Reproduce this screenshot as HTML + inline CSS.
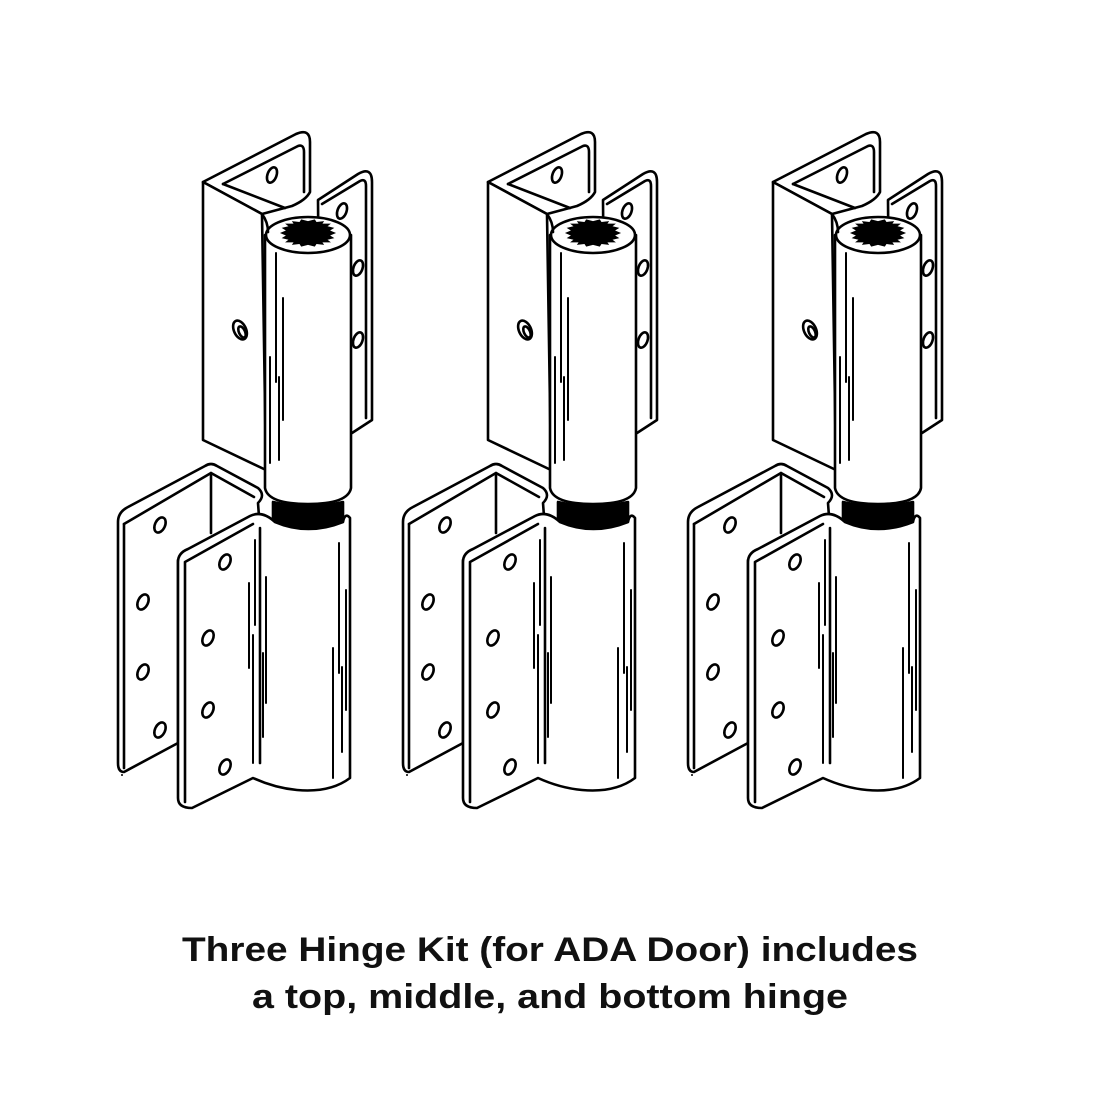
<!DOCTYPE html>
<html><head><meta charset="utf-8"><style>
html,body{margin:0;padding:0;background:#fff;}
svg{display:block;}
</style></head><body>
<svg width="1100" height="1100" viewBox="0 0 1100 1100" xmlns="http://www.w3.org/2000/svg">
<defs>
<g id="h" stroke="#000" stroke-width="2.6" fill="#fff" stroke-linejoin="round" stroke-linecap="round">
  <path d="M318,200 L358,174 Q372,166 372,182 L372,420 L352,433 L320,440 Z"/>
  <path d="M322,204 L360,181 Q366,178 366,186 L366,418" fill="none"/>
  <ellipse cx="342" cy="211" rx="4.5" ry="8" transform="rotate(20 342 211)"/>
  <ellipse cx="358" cy="268" rx="4.5" ry="8" transform="rotate(20 358 268)"/>
  <ellipse cx="358" cy="340" rx="4.5" ry="8" transform="rotate(20 358 340)"/>
  <path d="M203,182 L296,134 Q310,128 310,142 L310,192 Q306,200 292,206 L262,214 Z"/>
  <path d="M223,184 L298,146 Q304,144 304,152 L304,192" fill="none"/>
  <path d="M223,184 L285,208" fill="none"/>
  <ellipse cx="272" cy="175" rx="4.5" ry="8" transform="rotate(20 272 175)"/>
  <path d="M203,182 L262,214 L266,470 L203,440 Z"/>
  <ellipse cx="240" cy="330" rx="6" ry="10" transform="rotate(-25 240 330)"/>
  <ellipse cx="242" cy="332" rx="3" ry="6" transform="rotate(-25 242 332)"/>
  <path d="M265,235 L265,488 Q268,504 308,504 Q348,504 351,488 L351,235 Z"/>
  <ellipse cx="308" cy="235" rx="42" ry="18"/>
  <path d="M262,214 Q268,222 268,232" fill="none"/>
  <polygon transform="translate(308,233) scale(0.85) translate(-308,-233)" fill="#000" stroke="none" points="341,233 334,236 339,239 331,241 335,244 325,244 327,247 318,246 316,249 308,247 300,249 298,246 289,247 291,244 281,244 285,241 277,239 282,236 275,233 282,230 277,227 285,225 281,222 291,222 289,219 298,220 300,217 308,219 316,217 318,220 327,219 325,222 335,222 331,225 339,227 334,230"/>
  <path d="M276,253 L276,382 M283,298 L283,420 M270,357 L270,463 M279,377 L279,460" fill="none" stroke-width="2"/>
  <path d="M273,502 L273,522 Q308,534 343,522 L343,502 Q308,510 273,502 Z" fill="#000"/>
  <path d="M118,522 Q118,512 128,507 L205,466 Q211,462 217,466 L258,488 Q266,495 258,503 L260,530 L178,560 L178,743 L124,772 Q118,772 118,763 Z"/>
  <path d="M124,524 L211,473 L254,497" fill="none"/>
  <path d="M211,473 L211,533" fill="none"/>
  <path d="M124,524 L124,768" fill="none"/>
  <ellipse cx="160" cy="525" rx="5" ry="8" transform="rotate(25 160 525)"/>
  <ellipse cx="143" cy="602" rx="5" ry="8" transform="rotate(25 143 602)"/>
  <ellipse cx="143" cy="672" rx="5" ry="8" transform="rotate(25 143 672)"/>
  <ellipse cx="160" cy="730" rx="5" ry="8" transform="rotate(25 160 730)"/>
  <path d="M178,562 Q178,553 188,549 L250,516 Q262,510 275,522 Q308,536 343,522 Q345,512 350,518 L350,778 Q330,793 297,790 Q275,788 253,778 L192,808 Q178,808 178,798 Z"/>
  <path d="M185,562 L253,524 M185,562 L185,802" fill="none"/>
  <path d="M260,528 L260,763" fill="none"/>
  <ellipse cx="225" cy="562" rx="5" ry="8" transform="rotate(25 225 562)"/>
  <ellipse cx="208" cy="638" rx="5" ry="8" transform="rotate(25 208 638)"/>
  <ellipse cx="208" cy="710" rx="5" ry="8" transform="rotate(25 208 710)"/>
  <ellipse cx="225" cy="767" rx="5" ry="8" transform="rotate(25 225 767)"/>
  <path d="M255,540 L255,625 M249,583 L249,668 M253,635 L253,763 M266,577 L266,703 M263,653 L263,737 M339,543 L339,673 M346,590 L346,710 M333,648 L333,778 M342,667 L342,752" fill="none" stroke-width="2"/>
  <circle cx="122" cy="775" r="1" fill="#000" stroke="none"/>
</g>
</defs>
<use href="#h"/>
<use href="#h" transform="translate(285,0)"/>
<use href="#h" transform="translate(570,0)"/>
<text x="550" y="961" text-anchor="middle" font-family="Liberation Sans, sans-serif" font-weight="bold" font-size="34" textLength="736" lengthAdjust="spacingAndGlyphs" fill="#111">Three Hinge Kit (for ADA Door) includes</text>
<text x="550" y="1008" text-anchor="middle" font-family="Liberation Sans, sans-serif" font-weight="bold" font-size="34" textLength="596" lengthAdjust="spacingAndGlyphs" fill="#111">a top, middle, and bottom hinge</text>
</svg>
</body></html>
